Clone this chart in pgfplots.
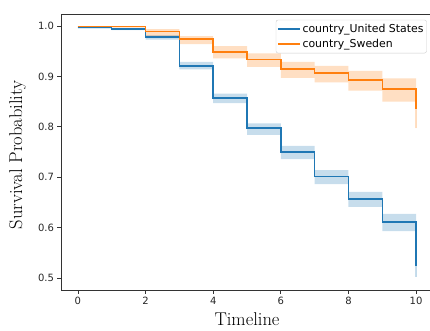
\documentclass[border=0pt]{standalone}
\usepackage{fontspec}
\usepackage{pgfplots}
\pgfplotsset{compat=1.18}
\usepgfplotslibrary{fillbetween}
\newfontfamily\dejavu{DejaVu Sans}
\definecolor{mblue}{HTML}{1F77B4}
\definecolor{morange}{HTML}{FF7F0E}
\pgfplotstableread{
t s lo hi
0 0.997 0.995 0.999
1 0.994 0.992 0.996
2 0.978 0.973 0.982
3 0.921 0.914 0.929
4 0.857 0.847 0.866
5 0.798 0.784 0.807
6 0.750 0.736 0.762
7 0.701 0.686 0.714
8 0.657 0.641 0.671
9 0.611 0.593 0.627
10 0.523 0.502 0.545
}\us
\pgfplotstableread{
t s lo hi
0 0.999 0.997 1.000
2 0.989 0.980 0.994
3 0.974 0.964 0.980
4 0.949 0.936 0.960
5 0.934 0.919 0.946
6 0.915 0.897 0.929
7 0.907 0.888 0.921
8 0.893 0.872 0.911
9 0.875 0.850 0.896
10 0.835 0.797 0.870
}\se
\begin{document}
\begin{tikzpicture}
\begin{axis}[
  at={(0,0)}, anchor=south west,
  scale only axis, width=372pt, height=276pt,
  xmin=-0.5, xmax=10.5, ymin=0.476, ymax=1.024,
  xtick={0,2,4,6,8,10},
  ytick={0.5,0.6,0.7,0.8,0.9,1.0},
  /pgf/number format/assume math mode=true,
  ticklabel style={font=\dejavu\fontsize{10}{12}\selectfont, text=black!85},
  yticklabel style={/pgf/number format/fixed, /pgf/number format/fixed zerofill, /pgf/number format/precision=1},
  tick align=outside, major tick length=3.5pt,
  tick style={black!80, line width=0.8pt},
  xtick pos=bottom, ytick pos=left,
  axis line style={black!80, line width=0.8pt},
  xlabel={Timeline}, ylabel={Survival Probability},
  label style={font=\fontsize{18.5}{20}\selectfont},
  xlabel style={at={(axis description cs:0.5,-0.106)}, anchor=center},
  ylabel style={at={(axis description cs:-0.117,0.49)}, anchor=center},
  legend style={at={(axis description cs:0.983,0.979)}, anchor=north east,
    font=\dejavu\fontsize{10.9}{13}\selectfont, draw=black!20, fill=white, fill opacity=0.8, text opacity=1,
    rounded corners=2pt, inner xsep=1pt, inner ysep=2pt, row sep=1.5pt,
    nodes={inner sep=2pt},
    /tikz/every even column/.append style={column sep=3.5pt}},
  legend cell align=left,
  legend image code/.code={\draw[#1, line width=1.5pt] (0pt,0pt) -- (22pt,0pt);},
]
% United States
\addplot[name path=ushi, draw=none, const plot, forget plot] table[x=t, y=hi] {\us};
\addplot[name path=uslo, draw=none, const plot, forget plot] table[x=t, y=lo] {\us};
\addplot[fill=mblue, fill opacity=0.25, draw=none, forget plot] fill between[of=ushi and uslo];
\addplot[mblue, opacity=0.25, line width=1.2pt, forget plot] coordinates {(10,0.502) (10,0.523)};
\addplot[mblue, line width=1.5pt, const plot] table[x=t, y=s] {\us};
\addlegendentry{country\_United States}
% Sweden
\addplot[name path=sehi, draw=none, const plot, forget plot] table[x=t, y=hi] {\se};
\addplot[name path=selo, draw=none, const plot, forget plot] table[x=t, y=lo] {\se};
\addplot[fill=morange, fill opacity=0.25, draw=none, forget plot] fill between[of=sehi and selo];
\addplot[morange, opacity=0.25, line width=1.2pt, forget plot] coordinates {(10,0.797) (10,0.835)};
\addplot[morange, line width=1.5pt, const plot] table[x=t, y=s] {\se};
\addlegendentry{country\_Sweden}
\end{axis}
\pgfresetboundingbox
\path[use as bounding box] (-61pt,-40pt) rectangle (369pt,290pt);
\end{tikzpicture}
\end{document}
